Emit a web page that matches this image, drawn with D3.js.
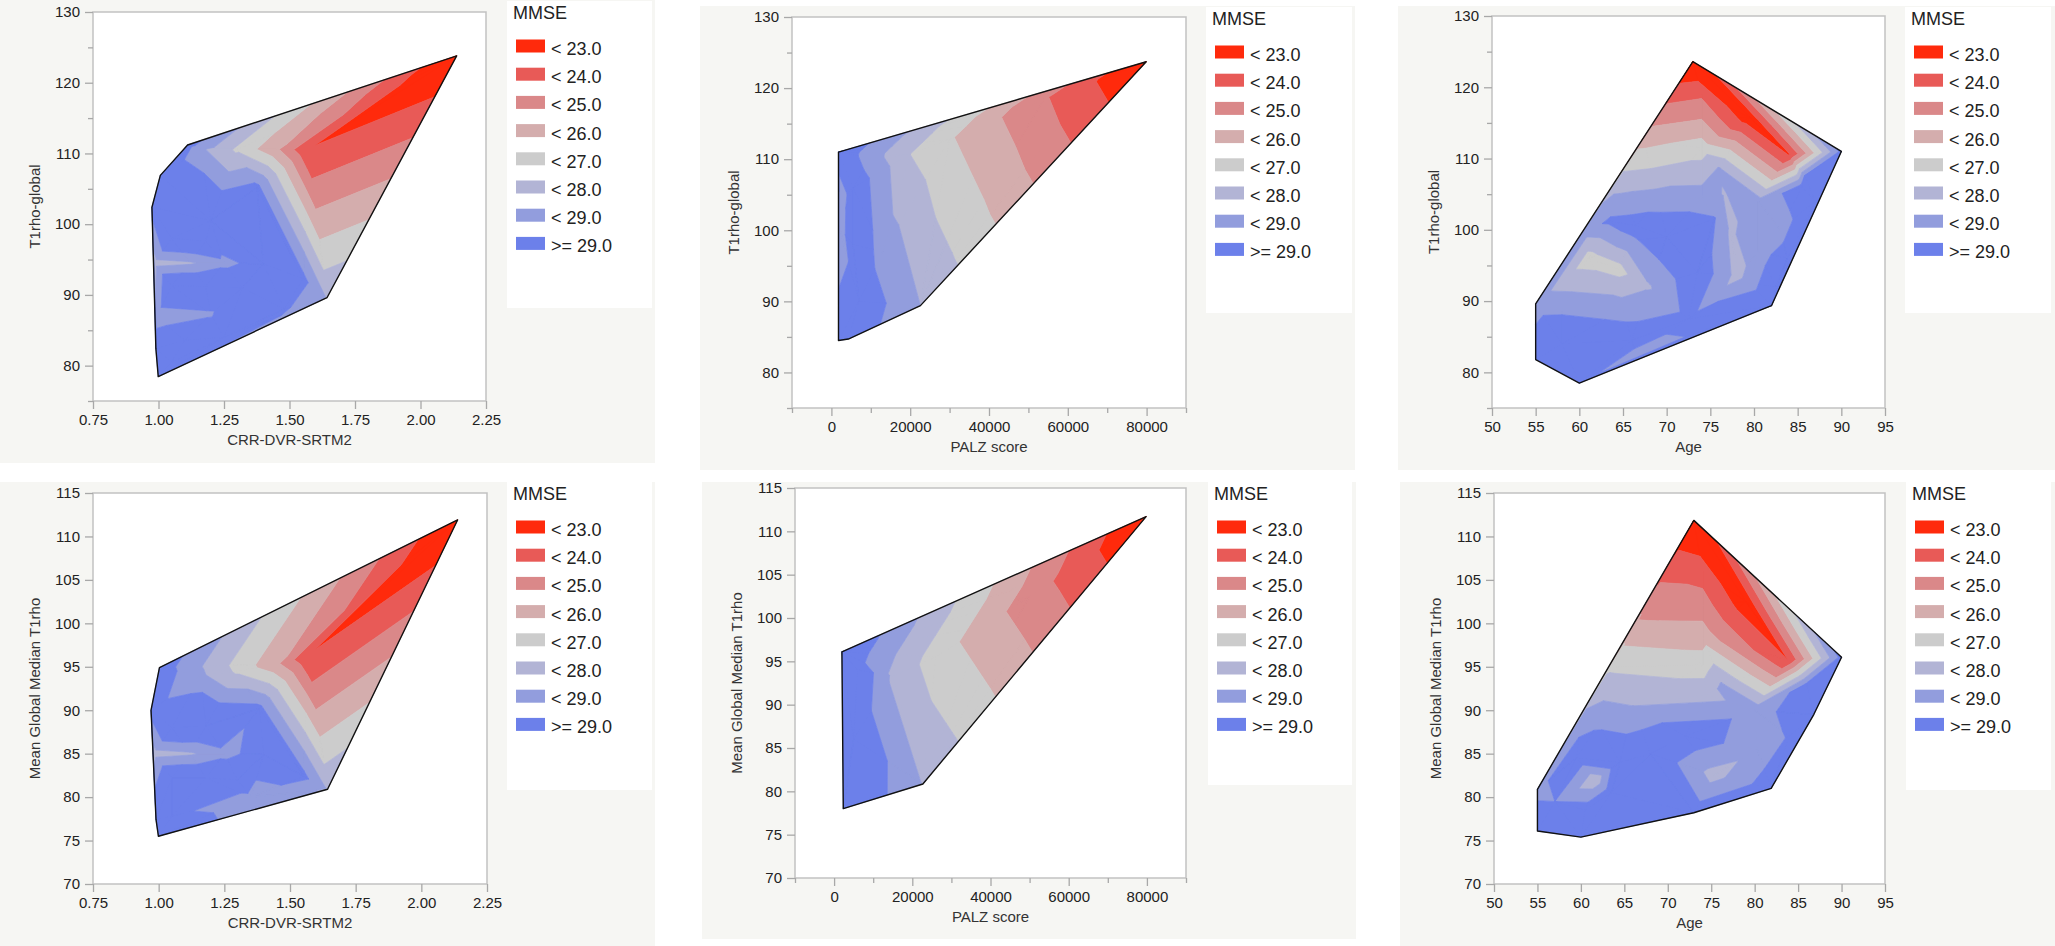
<!DOCTYPE html>
<html>
<head>
<meta charset="utf-8">
<script src="https://cdn.jsdelivr.net/npm/d3@7"></script>
<style>
  body { margin: 0; background: #ffffff; }
  svg { display: block; font-family: "Liberation Sans", Arial, Helvetica, sans-serif; }
</style>
</head>
<body>
<svg id="chart" width="2055" height="946"></svg>
<script>
// ---- legend / bands ----
const mmseBreaks = [23, 24, 25, 26, 27, 28, 29];
const mmseLabels = ["< 23.0", "< 24.0", "< 25.0", "< 26.0", "< 27.0", "< 28.0", "< 29.0", ">= 29.0"];
const mmseColors = ["#ff2a0c", "#e85a57", "#da8889", "#d4adad", "#cccccc", "#b2b4d5", "#929ddd", "#6c80ea"];

// ---- tick values ----
const crrTicks = [0.75, 1.0, 1.25, 1.5, 1.75, 2.0, 2.25];
const palzTicks = [0, 20000, 40000, 60000, 80000];
const palzMinor = [-10000, 10000, 30000, 50000, 70000, 90000];
const ageTicks = [50, 55, 60, 65, 70, 75, 80, 85, 90, 95];
const topYTicks = [80, 90, 100, 110, 120, 130];
const topYMinor = [75, 85, 95, 105, 115, 125];
const bottomYTicks = [70, 75, 80, 85, 90, 95, 100, 105, 110, 115];

// ---- CRR-DVR-SRTM2 vs T1rho-global ----
const crrTopX =    [2.138, 1.643, 0.999, 0.990, 0.975, 1.007, 1.111, 1.570, 1.160, 1.300, 1.450, 1.376, 1.552, 0.983, 1.120,
                    1.250, 1.400, 1.200, 1.050, 1.180, 1.050, 1.180, 1.320, 0.992, 1.200, 1.480, 1.100, 1.250, 1.050];
const crrTopY =    [123.8, 89.6, 78.45, 82.4, 102.4, 106.9, 111.2, 110.5, 110.6, 110.6, 110.6, 105.2, 92.3, 94.5, 94.5,
                    94.5, 94.4, 100.5, 98.0, 97.6, 91.3, 91.2, 91.0, 86.8, 87.3, 88.0, 83.6, 84.0, 80.5];
const crrTopMMSE = [22.0, 27.9, 29.6, 30.3, 29.4, 30.2, 29.4, 23.05, 28.2, 26.8, 25.2, 29.3, 29.3, 27.6, 27.85,
                    28.6, 29.6, 30.6, 30.5, 30.6, 30.5, 30.6, 30.6, 28.3, 28.8, 29.2, 30.3, 30.4, 29.9];

// ---- PALZ score vs T1rho-global ----
const palzTopX =    [1800, 79900, 22600, 4300, 1800, 2000, 2000, 5500, 5500, 7000, 13000, 10000, 20000, 30000, 42000, 54000, 66000];
const palzTopY =    [111.0, 123.7, 89.4, 84.7, 84.5, 104.0, 100.5, 106.0, 98.0, 90.0, 97.0, 110.1, 110.7, 112.8, 115.6, 118.5, 120.6];
const palzTopMMSE = [29.8, 22.0, 28.0, 29.8, 29.6, 28.0, 28.3, 29.8, 29.9, 29.8, 28.6, 28.5, 27.0, 26.1, 25.1, 24.1, 23.1];

// ---- Age vs T1rho-global ----
const ageTopX =    [73.0, 90.0, 82.0, 60.0, 55.0, 55.0, 70.9, 67.4, 64.1, 60.8, 74.0, 74.0, 74.0, 76.0, 84.0, 85.8, 79.5,
                    85.5, 87.0, 83.8, 82.5, 78.2, 79.5, 80.5, 83.0, 80.5, 63.5, 75.5, 70.0, 73.5, 72.5, 69.0, 74.0,
                    61.0, 64.5, 68.0, 66.0, 58.0, 65.0, 58.0, 66.0, 66.5, 66.5, 76.5, 77.3];
const ageTopY =    [123.6, 111.0, 89.35, 78.5, 81.8, 89.6, 119.3, 112.6, 106.3, 100.2, 119.0, 115.5, 111.5, 108.6, 110.6, 107.6, 115.8,
                    106.0, 104.0, 96.0, 92.0, 93.6, 92.5, 104.0, 100.0, 97.0, 101.2, 101.6, 99.0, 94.0, 87.5, 104.0, 104.5,
                    96.0, 94.5, 92.0, 98.5, 88.5, 88.8, 84.0, 84.5, 82.5, 100.6, 105.0, 100.0];
const ageTopMMSE = [21.8, 29.3, 29.7, 29.2, 29.7, 28.6, 23.5, 25.6, 27.6, 28.6, 23.8, 25.0, 26.5, 28.1, 22.9, 29.0, 22.3,
                    29.5, 29.7, 29.5, 29.6, 27.6, 28.7, 28.4, 28.6, 28.6, 29.2, 29.05, 29.9, 29.9, 29.3, 28.6, 28.5,
                    26.5, 26.6, 27.9, 28.8, 28.9, 28.6, 30.0, 29.6, 28.6, 29.5, 27.95, 27.85];

// ---- CRR-DVR-SRTM2 vs Mean Global Median T1rho ----
const crrBotX =    [2.138, 1.643, 0.999, 0.990, 0.971, 1.003, 1.568, 1.160, 1.300, 1.450, 1.384, 1.552,
                    0.980, 1.120, 1.250, 1.400, 1.050, 1.180, 1.050, 1.180, 1.300, 1.350, 1.050];
const crrBotY =    [111.9, 80.9, 75.5, 77.4, 90.0, 94.9, 96.2, 94.0, 94.5, 95.3, 90.2, 82.4,
                    85.0, 85.0, 85.0, 84.9, 88.0, 88.2, 82.2, 82.2, 82.0, 80.0, 77.8];
const crrBotMMSE = [22.0, 27.9, 29.6, 30.3, 29.4, 29.6, 23.05, 28.2, 26.8, 25.2, 29.3, 29.3,
                    27.6, 27.85, 28.6, 29.6, 30.5, 30.6, 30.4, 30.5, 30.5, 28.6, 29.15];

// ---- PALZ score vs Mean Global Median T1rho ----
const palzBotX =    [2000, 79800, 22700, 2350, 15000, 26000, 38000, 50000, 62000, 6000, 5000];
const palzBotY =    [96.1, 111.7, 80.85, 78.0, 93.3, 95.5, 99.0, 102.5, 106.0, 94.0, 86.0];
const palzBotMMSE = [30.0, 21.95, 27.95, 30.3, 27.8, 26.5, 25.5, 24.5, 23.5, 30.0, 30.0];

// ---- Age vs Mean Global Median T1rho ----
const ageBotX =    [73.0, 90.0, 86.8, 81.9, 73.0, 60.0, 55.0, 55.0, 70.5, 67.0, 63.5, 60.0, 74.0, 74.0, 74.0, 74.0, 74.5, 79.0,
                    83.8, 86.0, 76.3, 75.3, 80.3, 80.0, 84.0, 68.0, 72.0, 57.0, 61.7, 59.5, 63.5, 60.5, 64.5, 66.0, 62.0];
const ageBotY =    [111.85, 96.1, 89.5, 81.0, 78.2, 75.4, 76.1, 80.9, 107.0, 101.0, 95.0, 89.0, 106.0, 102.0, 98.5, 95.2, 91.8, 102.5,
                    95.8, 93.0, 92.8, 82.5, 85.5, 90.0, 87.0, 85.0, 87.0, 79.5, 82.0, 84.5, 80.5, 78.5, 84.0, 90.5, 88.5];
const ageBotMMSE = [21.8, 29.4, 29.7, 29.7, 29.6, 29.5, 29.8, 28.7, 23.5, 24.8, 26.8, 28.3, 23.5, 24.5, 25.5, 26.5, 27.6, 22.3,
                    23.0, 29.2, 28.2, 27.6, 28.3, 28.6, 29.1, 30.0, 29.8, 29.0, 27.3, 29.8, 29.7, 29.6, 30.0, 28.0, 28.8];

const panels = [
  {xs: crrTopX, ys: crrTopY, zs: crrTopMMSE, xDomain: [0.75, 2.25], xTicks: crrTicks, xMinor: [], xFmt: d3.format(".2f"),
   yDomain: [75, 130], yTicks: topYTicks, yMinor: topYMinor, xTitle: "CRR-DVR-SRTM2", yTitle: "T1rho-global",
   bg: [0, 0, 655, 463], plot: [93, 12, 486, 401], legend: [507, 1, 652, 308]},
  {xs: palzTopX, ys: palzTopY, zs: palzTopMMSE, xDomain: [-10000, 90000], xTicks: palzTicks, xMinor: palzMinor, xFmt: d3.format("d"),
   yDomain: [75, 130], yTicks: topYTicks, yMinor: topYMinor, xTitle: "PALZ score", yTitle: "T1rho-global",
   bg: [700, 6, 1355, 470], plot: [792, 17, 1186, 408], legend: [1206, 7, 1352, 313]},
  {xs: ageTopX, ys: ageTopY, zs: ageTopMMSE, xDomain: [50, 95], xTicks: ageTicks, xMinor: [], xFmt: d3.format("d"),
   yDomain: [75, 130], yTicks: topYTicks, yMinor: topYMinor, xTitle: "Age", yTitle: "T1rho-global",
   bg: [1398, 6, 2055, 470], plot: [1492, 16, 1885, 408], legend: [1905, 7, 2051, 313]},
  {xs: crrBotX, ys: crrBotY, zs: crrBotMMSE, xDomain: [0.75, 2.25], xTicks: crrTicks, xMinor: [], xFmt: d3.format(".2f"),
   yDomain: [70, 115], yTicks: bottomYTicks, yMinor: [], xTitle: "CRR-DVR-SRTM2", yTitle: "Mean Global Median T1rho",
   bg: [0, 482, 655, 946], plot: [93, 493, 487, 884], legend: [507, 482, 652, 790]},
  {xs: palzBotX, ys: palzBotY, zs: palzBotMMSE, xDomain: [-10000, 90000], xTicks: palzTicks, xMinor: palzMinor, xFmt: d3.format("d"),
   yDomain: [70, 115], yTicks: bottomYTicks, yMinor: [], xTitle: "PALZ score", yTitle: "Mean Global Median T1rho",
   bg: [702, 482, 1356, 939], plot: [795, 488, 1186, 878], legend: [1208, 482, 1352, 785]},
  {xs: ageBotX, ys: ageBotY, zs: ageBotMMSE, xDomain: [50, 95], xTicks: ageTicks, xMinor: [], xFmt: d3.format("d"),
   yDomain: [70, 115], yTicks: bottomYTicks, yMinor: [], xTitle: "Age", yTitle: "Mean Global Median T1rho",
   bg: [1400, 482, 2055, 946], plot: [1494, 493, 1885, 884], legend: [1906, 482, 2051, 790]}
];

const svg = d3.select("#chart");

// keep the part of a polygon where z >= thr (above) or z < thr (below)
function clip(poly, thr, above) {
  const out = [];
  const inside = p => above ? p[2] >= thr : p[2] < thr;
  for (let i = 0; i < poly.length; i++) {
    const p = poly[i], q = poly[(i + 1) % poly.length];
    const pin = inside(p), qin = inside(q);
    if (pin) out.push(p);
    if (pin !== qin) {
      const t = (thr - p[2]) / (q[2] - p[2]);
      out.push([p[0] + t * (q[0] - p[0]), p[1] + t * (q[1] - p[1]), thr]);
    }
  }
  return out;
}

function drawPanel(p) {
  const g = svg.append("g");
  const [px0, py0, px1, py1] = p.plot;

  g.append("rect")
    .attr("x", p.bg[0]).attr("y", p.bg[1])
    .attr("width", p.bg[2] - p.bg[0]).attr("height", p.bg[3] - p.bg[1])
    .attr("fill", "#f6f6f3");

  g.append("rect")
    .attr("x", px0).attr("y", py0)
    .attr("width", px1 - px0).attr("height", py1 - py0)
    .attr("fill", "#ffffff");

  const x = d3.scaleLinear().domain(p.xDomain).range([px0, px1]);
  const y = d3.scaleLinear().domain(p.yDomain).range([py1, py0]);

  // triangulate the points and fill each triangle band by band
  const pts = p.xs.map((v, i) => [x(v), y(p.ys[i]), p.zs[i]]);
  const del = d3.Delaunay.from(pts, d => d[0], d => d[1]);
  const tris = del.triangles;
  const bandPaths = mmseColors.map(() => []);
  for (let t = 0; t < tris.length; t += 3) {
    const tri = [pts[tris[t]], pts[tris[t + 1]], pts[tris[t + 2]]];
    for (let b = 0; b < mmseColors.length; b++) {
      let poly = tri;
      if (b > 0) poly = clip(poly, mmseBreaks[b - 1], true);
      if (b < mmseBreaks.length && poly.length) poly = clip(poly, mmseBreaks[b], false);
      if (poly.length >= 3) {
        bandPaths[b].push("M" + poly.map(q => q[0].toFixed(2) + "," + q[1].toFixed(2)).join("L") + "Z");
      }
    }
  }
  g.append("g")
    .selectAll("path")
    .data(bandPaths)
    .join("path")
      .attr("d", d => d.join(""))
      .attr("fill", (d, i) => mmseColors[i])
      .attr("stroke", (d, i) => mmseColors[i])
      .attr("stroke-width", 0.7)
      .attr("stroke-linejoin", "round");

  g.append("path")
    .attr("d", "M" + del.hullPolygon().map(q => q.join(",")).join("L") + "Z")
    .attr("fill", "none")
    .attr("stroke", "#111")
    .attr("stroke-width", 1.4)
    .attr("stroke-linejoin", "round");

  g.append("rect")
    .attr("x", px0).attr("y", py0)
    .attr("width", px1 - px0).attr("height", py1 - py0)
    .attr("fill", "none")
    .attr("stroke", "#c2c2c2")
    .attr("stroke-width", 1.5);

  const styleAxis = sel => {
    sel.select(".domain").remove();
    sel.selectAll(".tick line").attr("stroke", "#a8a8a8").attr("stroke-width", 1.3);
    sel.selectAll(".tick text").attr("fill", "#222").style("font-size", "15px");
  };

  g.append("g")
    .attr("transform", `translate(0,${py1})`)
    .call(d3.axisBottom(x).tickValues(p.xTicks).tickFormat(p.xFmt).tickSize(8).tickPadding(5))
    .call(styleAxis);
  if (p.xMinor.length) {
    g.append("g")
      .attr("transform", `translate(0,${py1})`)
      .call(d3.axisBottom(x).tickValues(p.xMinor).tickFormat("").tickSize(5))
      .call(styleAxis);
  }
  g.append("g")
    .attr("transform", `translate(${px0},0)`)
    .call(d3.axisLeft(y).tickValues(p.yTicks).tickFormat(d3.format("d")).tickSize(8).tickPadding(5))
    .call(styleAxis);
  if (p.yMinor.length) {
    g.append("g")
      .attr("transform", `translate(${px0},0)`)
      .call(d3.axisLeft(y).tickValues(p.yMinor).tickFormat("").tickSize(5))
      .call(styleAxis);
  }

  g.append("text")
    .attr("x", (px0 + px1) / 2).attr("y", py1 + 38)
    .attr("text-anchor", "middle").attr("dominant-baseline", "central")
    .attr("fill", "#333").style("font-size", "15px")
    .text(p.xTitle);
  g.append("text")
    .attr("transform", `translate(${px0 - 59},${(py0 + py1) / 2}) rotate(-90)`)
    .attr("text-anchor", "middle").attr("dominant-baseline", "central")
    .attr("fill", "#333").style("font-size", "15px")
    .text(p.yTitle);

  // legend
  const [lx0, ly0, lx1, ly1] = p.legend;
  const lg = g.append("g");
  lg.append("rect")
    .attr("x", lx0).attr("y", ly0)
    .attr("width", lx1 - lx0).attr("height", ly1 - ly0)
    .attr("fill", "#ffffff");
  lg.append("text")
    .attr("x", lx0 + 6).attr("y", ly0 + 12)
    .attr("dominant-baseline", "central")
    .attr("fill", "#222").style("font-size", "18px")
    .text("MMSE");
  const items = lg.selectAll("g.item")
    .data(mmseLabels)
    .join("g")
      .attr("class", "item")
      .attr("transform", (d, i) => `translate(${lx0 + 9},${ly0 + 45 + i * 28.2})`);
  items.append("rect")
    .attr("x", 0).attr("y", -6.5).attr("width", 29).attr("height", 13)
    .attr("fill", (d, i) => mmseColors[i]);
  items.append("text")
    .attr("x", 35).attr("y", 3)
    .attr("dominant-baseline", "central")
    .attr("fill", "#222").style("font-size", "18px")
    .text(d => d);
}

panels.forEach(drawPanel);
</script>
</body>
</html>
